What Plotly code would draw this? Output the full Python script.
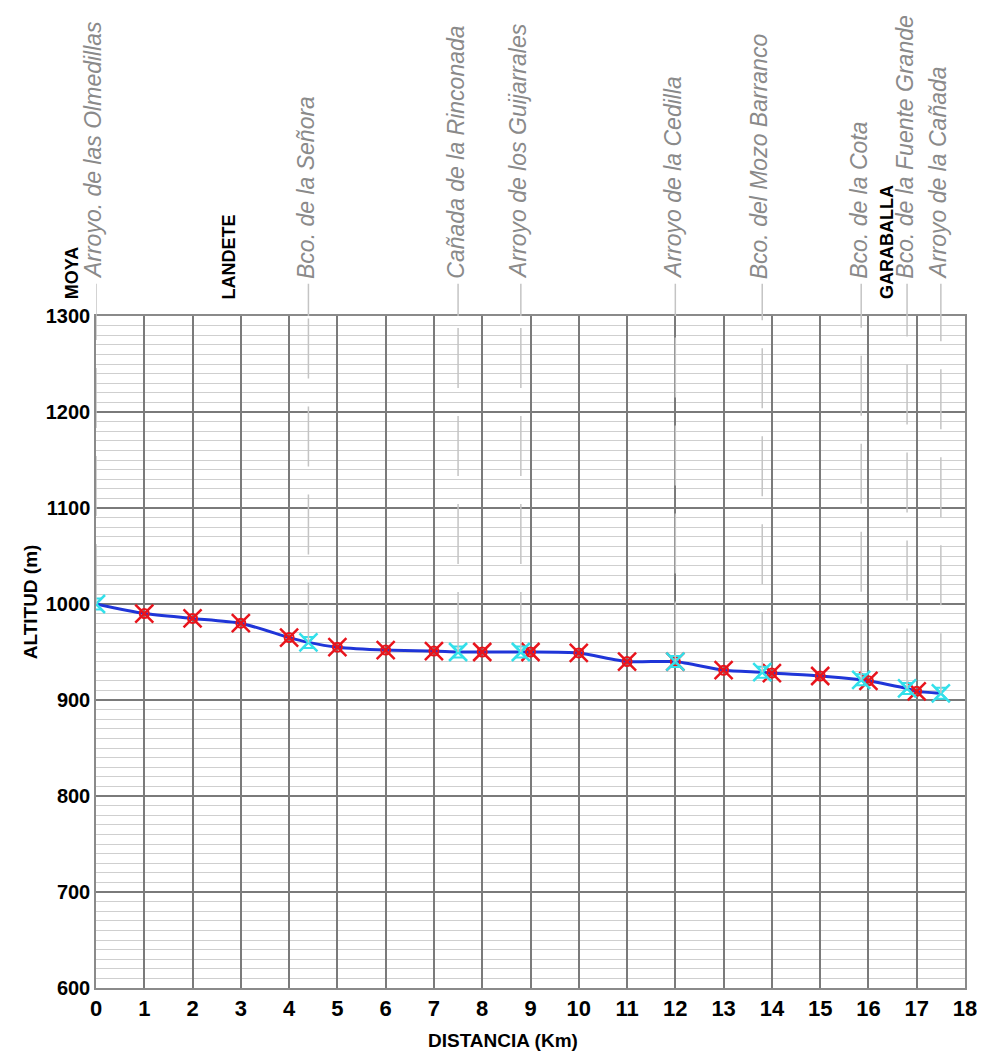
import plotly.graph_objects as go

# Profile data
dist_km = [0, 1, 2, 3, 4, 4.4, 5, 6, 7, 7.5, 8, 8.8, 9, 10, 11, 12, 13, 13.8, 14, 15, 15.85, 16, 16.8, 17, 17.5]
alt_m = [1000, 990, 985, 980, 965, 960, 955, 952, 951, 950, 950, 950, 950, 949, 940, 940, 931, 929, 928, 925, 921, 920, 912, 909, 907]

# Kilometre points (red markers)
km_x = [1, 2, 3, 4, 5, 6, 7, 8, 9, 10, 11, 12, 13, 14, 15, 16, 17]
km_y = [990, 985, 980, 965, 955, 952, 951, 950, 950, 949, 940, 940, 931, 928, 925, 920, 909]

# Stream crossings (cyan markers)
stream_names = ["Arroyo. de las Olmedillas", "Bco. de la Señora", "Cañada de la Rinconada",
                "Arroyo de los Guijarrales", "Arroyo de la Cedilla", "Bco. del Mozo Barranco",
                "Bco. de la Cota", "Bco. de la Fuente Grande", "Arroyo de la Cañada"]
stream_x = [0, 4.4, 7.5, 8.8, 12, 13.8, 15.85, 16.8, 17.5]
stream_y = [1000, 960, 950, 950, 940, 929, 921, 912, 907]

# Towns
town_names = ["MOYA", "LANDETE", "GARABALLA"]
town_x = [0, 2.75, 16.38]
town_shift = [-24, 0, 0]

x_ticks = list(range(0, 19))
y_ticks = list(range(600, 1301, 100))

fig = go.Figure()

# dashed guide lines from label to crossing point
for sx, sy in zip(stream_x, stream_y):
    fig.add_shape(type="line", xref="x", yref="y", x0=sx, x1=sx, y0=sy, y1=1300,
                  line=dict(color="#c4c4c4", width=1.5, dash="60px,28px"), layer="above")
    fig.add_shape(type="line", xref="x", yref="paper", x0=sx, x1=sx, y0=1.0, y1=1.048,
                  line=dict(color="#c4c4c4", width=1.5), layer="above")

fig.add_trace(go.Scatter(x=dist_km, y=alt_m, mode="lines",
                         line=dict(color="#1f35d8", width=3, shape="spline", smoothing=0.6),
                         showlegend=False, hoverinfo="skip"))

fig.add_trace(go.Scatter(x=km_x, y=km_y, mode="markers",
                         marker=dict(symbol="x-thin", size=18, color="#e8141c",
                                     line=dict(color="#e8141c", width=2.5)),
                         showlegend=False))
fig.add_trace(go.Scatter(x=km_x, y=km_y, mode="markers",
                         marker=dict(symbol="circle-open", size=9, color="#e8141c",
                                     line=dict(color="#e8141c", width=2)),
                         showlegend=False))
fig.add_trace(go.Scatter(x=stream_x, y=stream_y, mode="markers",
                         marker=dict(symbol="x-thin", size=18, color="#33e0ea",
                                     line=dict(color="#33e0ea", width=2.5)),
                         showlegend=False))
fig.add_trace(go.Scatter(x=stream_x, y=stream_y, mode="markers",
                         marker=dict(symbol="hourglass-open", size=11, color="#33e0ea",
                                     line=dict(color="#33e0ea", width=2)),
                         showlegend=False))

for name, sx in zip(stream_names, stream_x):
    fig.add_annotation(x=sx, y=1.052, xref="x", yref="paper", text="<i>" + name + "</i>", textangle=-90,
                       showarrow=False, xanchor="center", yanchor="bottom",
                       font=dict(family="Liberation Sans", size=23, color="#8a8a8a"),
                       xshift=-3)
for name, tx, sh in zip(town_names, town_x, town_shift):
    fig.add_annotation(x=tx, y=1.022, xref="x", yref="paper", text=name,
                       textangle=-90, showarrow=False, xanchor="center", yanchor="bottom",
                       xshift=sh,
                       font=dict(family="Liberation Sans", size=18, color="#000000", weight="bold"))

# axis titles
fig.add_annotation(x=0, y=0.574, xref="paper", yref="paper", text="ALTITUD (m)", textangle=-90,
                   showarrow=False, xanchor="center", yanchor="middle", xshift=-66,
                   font=dict(family="Liberation Sans", size=19, color="#000", weight="bold"))
fig.add_annotation(x=0.468, y=0, xref="paper", yref="paper", text="DISTANCIA (Km)",
                   showarrow=False, xanchor="center", yanchor="middle", yshift=-52,
                   font=dict(family="Liberation Sans", size=19, color="#000", weight="bold"))

fig.update_layout(
    width=977, height=1048,
    margin=dict(l=88, r=20, t=308, b=68),
    plot_bgcolor="white", paper_bgcolor="white",
    showlegend=False,
    xaxis=dict(range=[0, 18], tickvals=x_ticks, ticktext=[str(v) for v in x_ticks],
               showgrid=True, gridcolor="#7a7a7a", gridwidth=1.5, zeroline=False,
               showline=True, linecolor="#8a8a8a", linewidth=1.5, mirror=True,
               automargin=False, ticks="",
               tickfont=dict(family="Liberation Sans Narrow, Liberation Sans", size=22, color="#000", weight="bold")),
    yaxis=dict(range=[600, 1300], tickvals=y_ticks, ticktext=[str(v) for v in y_ticks],
               showgrid=True, gridcolor="#7a7a7a", gridwidth=1.5, zeroline=False,
               showline=True, linecolor="#8a8a8a", linewidth=1.5, mirror=True,
               minor=dict(dtick=10, showgrid=True, gridcolor="#cfcfcf", gridwidth=1),
               automargin=False, ticks="",
               tickfont=dict(family="Liberation Sans", size=20, color="#000", weight="bold")),
)

fig.write_html("out.html")
